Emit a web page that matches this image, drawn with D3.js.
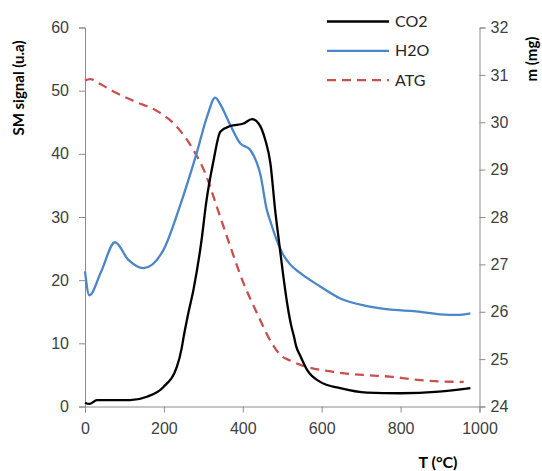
<!DOCTYPE html>
<html>
<head>
<meta charset="utf-8">
<script src="https://cdn.jsdelivr.net/npm/d3@7"></script>
<style>
  body { margin: 0; background: #fff; }
  svg { display: block; font-family: Lato, "Open Sans", sans-serif; }
  .axis path, .axis line { stroke: #8c8c8c; }
  .axis text { fill: #404040; font-size: 16px; }
</style>
</head>
<body>
<div id="chart"></div>
<script>
// temperature (°C) and signals
var co2T = [0, 11, 30, 60, 114, 157, 199, 233, 245, 250, 262, 275, 296, 307, 326, 343, 368, 402, 423, 440, 457, 470, 482, 492, 502, 512, 522, 530, 535, 546, 563, 596, 647, 715, 799, 897, 977];
var co2V = [0.6, 0.4, 1.0, 1.0, 1.0, 1.55, 3.1, 6.3, 9.2, 11.0, 14.8, 18.5, 26.6, 32.2, 39.0, 43.5, 44.4, 44.8, 45.5, 44.8, 42.2, 38.5, 31.1, 26.0, 21.0, 16.5, 13.0, 11.0, 9.6, 8.0, 5.8, 3.9, 2.9, 2.2, 2.1, 2.35, 2.9];

var h2oT = [0, 11, 40, 76, 110, 148, 199, 241, 283, 310, 330, 345, 368, 393, 419, 436, 444, 461, 470, 485, 500, 520, 546, 596, 647, 715, 783, 833, 901, 943, 977];
var h2oV = [21.4, 17.6, 21.2, 26.0, 23.2, 21.9, 24.8, 31.8, 40.1, 46.0, 48.9, 47.6, 44.6, 41.7, 40.6, 38.5, 36.9, 31.1, 29.3, 26.5, 24.3, 22.5, 21.1, 19.0, 17.1, 15.9, 15.3, 15.1, 14.6, 14.5, 14.75];

var atgT = [0, 13, 40, 72, 123, 182, 224, 250, 275, 305, 334, 360, 402, 436, 474, 495, 520, 546, 630, 715, 774, 833, 897, 960];
var atgV = [30.88, 30.91, 30.8, 30.65, 30.45, 30.24, 29.98, 29.73, 29.41, 28.92, 28.22, 27.58, 26.6, 25.97, 25.33, 25.09, 24.97, 24.88, 24.73, 24.66, 24.63, 24.57, 24.53, 24.52];

var xTicks = [0, 200, 400, 600, 800, 1000];
var leftTicks = [0, 10, 20, 30, 40, 50, 60];
var rightTicks = [24, 25, 26, 27, 28, 29, 30, 31, 32];

var seriesNames = ["CO2", "H2O", "ATG"];
var seriesColors = ["#000000", "#4a86c8", "#c9504d"];

var width = 542, height = 471;
var svg = d3.select("#chart").append("svg")
    .attr("width", width)
    .attr("height", height);

var x = d3.scaleLinear().domain([0, 1000]).range([85, 479.5]);
var yL = d3.scaleLinear().domain([0, 60]).range([406.5, 27.5]);
var yR = d3.scaleLinear().domain([24, 32]).range([406.5, 27.5]);

// axes
svg.append("g")
    .attr("class", "axis")
    .attr("transform", "translate(0," + yL(0) + ")")
    .call(d3.axisBottom(x).tickValues(xTicks).tickFormat(d3.format("d"))
        .tickSizeOuter(0).tickSize(6).tickPadding(10));

svg.append("g")
    .attr("class", "axis")
    .attr("transform", "translate(" + x(0) + ",0)")
    .call(d3.axisLeft(yL).tickValues(leftTicks).tickSizeOuter(0).tickSize(6).tickPadding(10));

svg.append("g")
    .attr("class", "axis")
    .attr("transform", "translate(" + x(1000) + ",0)")
    .call(d3.axisRight(yR).tickValues(rightTicks).tickSizeOuter(0).tickSize(6).tickPadding(5));

// lines
function makeLine(xs, ys, yScale) {
    var pts = xs.map(function(t, i) { return [t, ys[i]]; });
    return d3.line()
        .x(function(d) { return x(d[0]); })
        .y(function(d) { return yScale(d[1]); })
        .curve(d3.curveMonotoneX)(pts);
}

svg.append("path")
    .attr("d", makeLine(atgT, atgV, yR))
    .attr("fill", "none")
    .attr("stroke", seriesColors[2])
    .attr("stroke-width", 2.3)
    .attr("stroke-dasharray", "9,6");

svg.append("path")
    .attr("d", makeLine(h2oT, h2oV, yL))
    .attr("fill", "none")
    .attr("stroke", seriesColors[1])
    .attr("stroke-width", 2.3);

svg.append("path")
    .attr("d", makeLine(co2T, co2V, yL))
    .attr("fill", "none")
    .attr("stroke", seriesColors[0])
    .attr("stroke-width", 2.3);

// legend
var legend = svg.append("g");
seriesNames.forEach(function(name, i) {
    var ly = 21.5 + i * 29.3;
    legend.append("line")
        .attr("x1", 327).attr("x2", 389)
        .attr("y1", ly).attr("y2", ly)
        .attr("stroke", seriesColors[i])
        .attr("stroke-width", 2.3)
        .attr("stroke-dasharray", i === 2 ? "9,6" : null);
    legend.append("text")
        .attr("x", 395)
        .attr("y", ly)
        .attr("dy", "0.35em")
        .attr("font-size", "16px")
        .attr("fill", "#262626")
        .text(name);
});

// axis titles
svg.append("text")
    .attr("transform", "translate(24,88) rotate(-90)")
    .attr("text-anchor", "middle")
    .attr("font-size", "15px")
    .attr("font-weight", "bold")
    .attr("fill", "#000")
    .text("SM signal (u.a)");

svg.append("text")
    .attr("transform", "translate(537,59) rotate(-90)")
    .attr("text-anchor", "middle")
    .attr("font-size", "15px")
    .attr("font-weight", "bold")
    .attr("fill", "#000")
    .text("m (mg)");

svg.append("text")
    .attr("x", 438)
    .attr("y", 468)
    .attr("text-anchor", "middle")
    .attr("font-size", "16px")
    .attr("font-weight", "bold")
    .attr("fill", "#000")
    .text("T (°C)");
</script>
</body>
</html>
